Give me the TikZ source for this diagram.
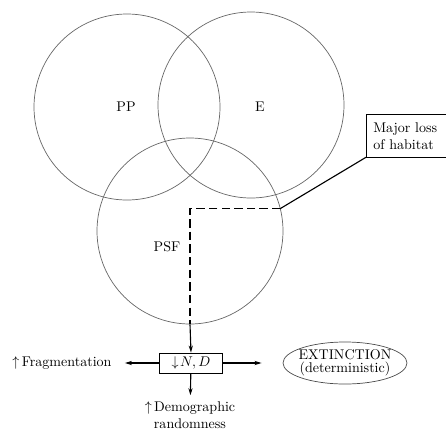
\documentclass[tikz,border=0pt]{standalone}
\usepackage{amsmath}
\usepackage{amssymb}
\usepackage{tikz}
\usetikzlibrary{arrows.meta,shapes.geometric}
\tikzset{venn/.style={circle,draw=black!60,line width=0.5pt,minimum size=46.5mm,inner sep=0pt},
  arr/.style={-{Stealth[length=5pt,width=3pt]},line width=0.8pt},
  plainbox/.style={draw,line width=0.6pt}}

\begin{document}
\begin{tikzpicture}[x=0.25mm,y=-0.25mm]
  \useasboundingbox (0,0) rectangle (446,431);
  \node[venn] (pp) at (127,107) {};
  \node[venn] (e) at (251,105) {};
  \node[venn] (psf) at (190,231) {};
  \node (lpp) at (126,107) {PP};
  \node (le) at (260,107) {E};
  \node (lpsf) at (167,247) {PSF};
  \node[anchor=west,align=left,text width=54pt,inner xsep=5pt,minimum height=10.5mm] (loss) at (366,136) {Major loss\\of habitat};
  \draw[line width=0.6pt] (loss.north east) -- (loss.north west) -- (loss.south west) -- (loss.south east);
  \node[plainbox,minimum width=15.75mm,minimum height=5mm,inner ysep=1.5pt] (nd) at (191,363) {$\downarrow\!N, D$};
  \node (frag) at (62,363) {$\uparrow$\,Fragmentation};
  \node[ellipse,draw=black!70,line width=0.5pt,minimum width=31mm,minimum height=10.5mm,align=center,inner sep=-3pt] (ext) at (345,363) {EXTINCTION\\[-3pt](deterministic)};
  \node[align=center] (demo) at (190,415) {$\uparrow$\,Demographic\\randomness};
  \draw[line width=0.8pt] (psf.14) -- (loss.south west);
  \draw[line width=1.1pt,dash pattern=on 6pt off 3pt] (psf.14) -| (psf.south);
  \draw[arr] (psf.south) -- (nd.north);
  \draw[arr,shorten >=6pt] (nd) -- (frag);
  \draw[arr,shorten >=15pt] (nd) -- (ext);
  \draw[arr,shorten >=1pt] (nd) -- (demo);
\end{tikzpicture}
\end{document}
